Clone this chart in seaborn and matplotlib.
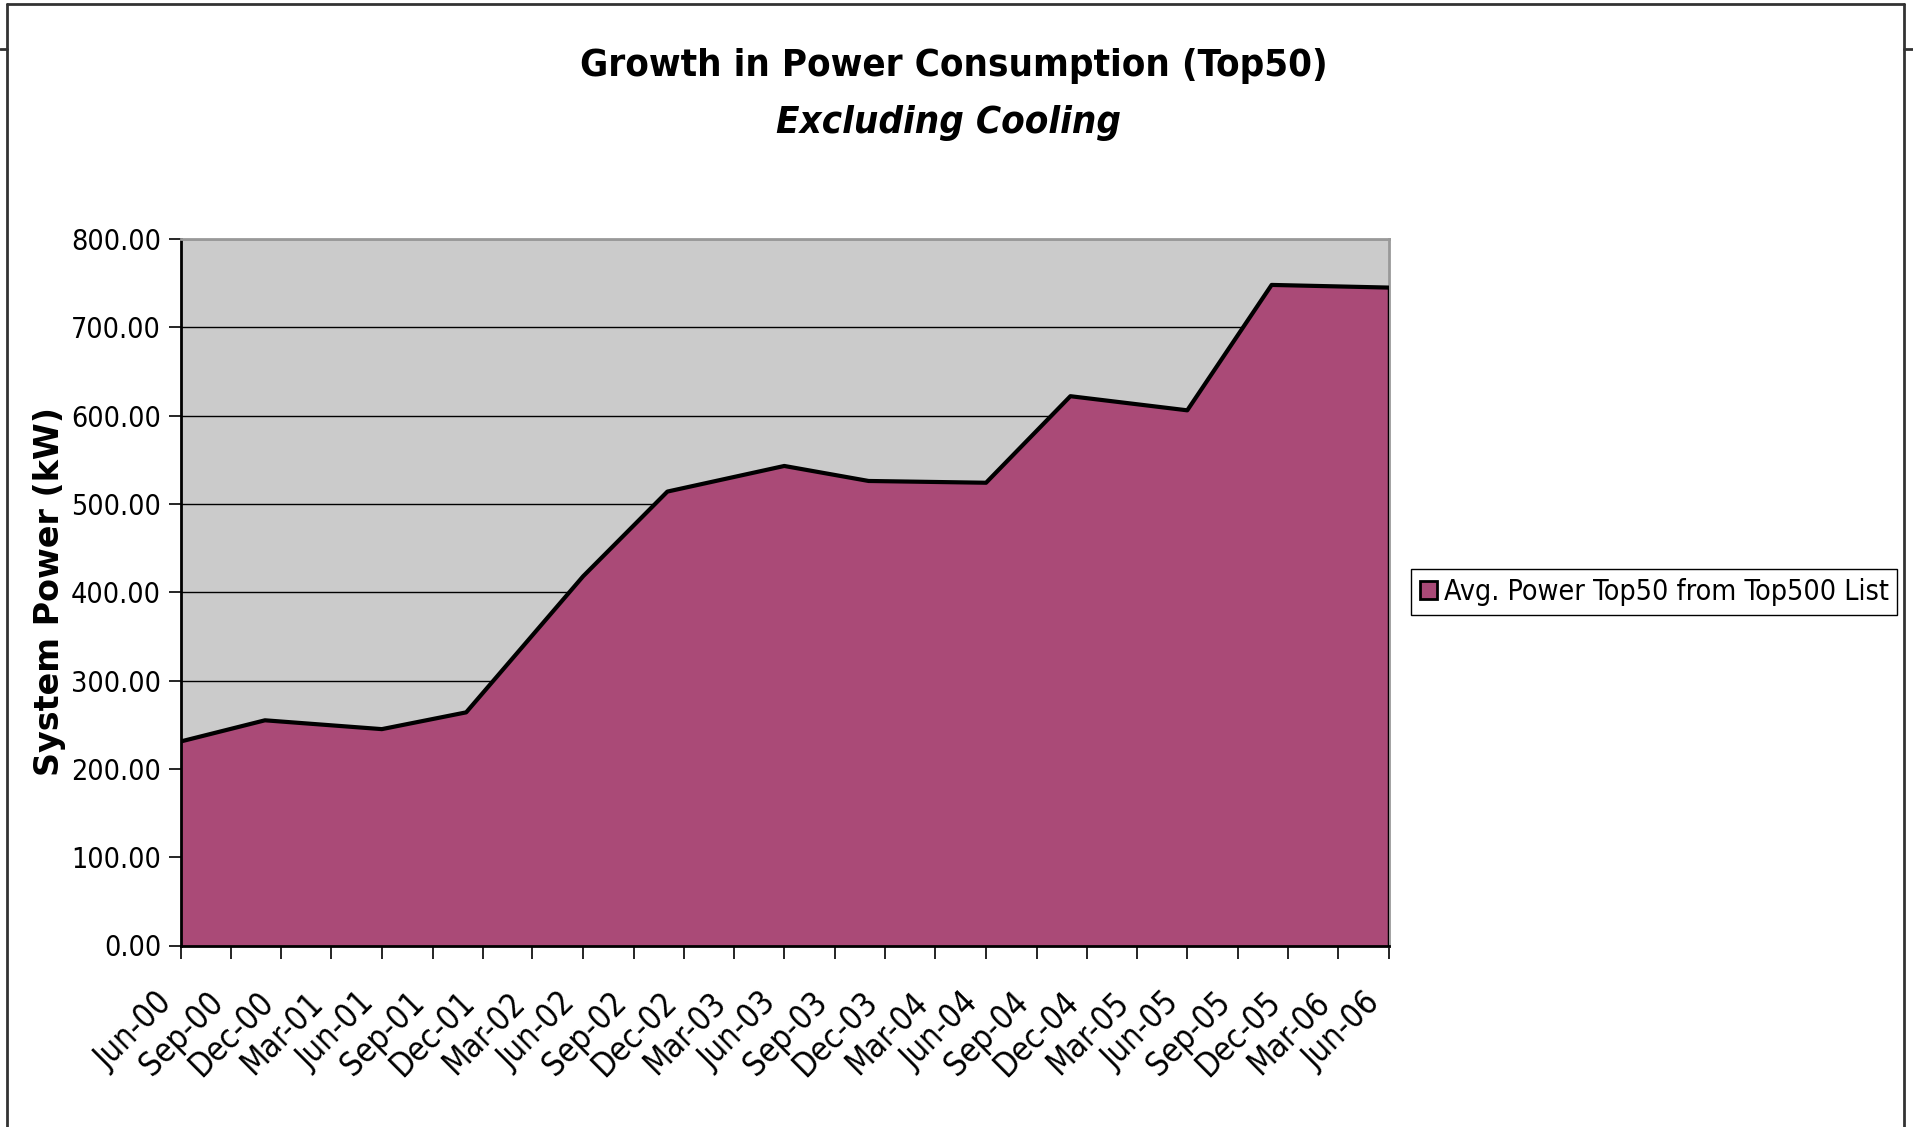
import matplotlib
matplotlib.use('Agg')
import pandas as pd
import matplotlib.pyplot as plt
import matplotlib.dates as mdates
import matplotlib.transforms as mtransforms
from matplotlib.lines import Line2D
from matplotlib.patches import Patch
from matplotlib.ticker import FormatStrFormatter
import seaborn as sns

# Top500 list dates (June / November) and average power of the top 50 systems
dates = ['2000-06-01', '2000-11-01', '2001-06-01', '2001-11-01', '2002-06-01',
         '2002-11-01', '2003-06-01', '2003-11-01', '2004-06-01', '2004-11-01',
         '2005-06-01', '2005-11-01', '2006-06-01']
power_kw = [231, 255, 245, 264, 418, 514, 543, 526, 524, 622, 606, 748, 745]
series_name = 'Avg. Power Top50 from Top500 List'
y_ticks = [0, 100, 200, 300, 400, 500, 600, 700, 800]

PURPLE = '#AA4A77'
PLOT_BG = '#CBCBCB'

if __name__ == "__main__":
    df = pd.DataFrame({'date': pd.to_datetime(dates), 'power': power_kw})

    sns.set_theme(style='white')
    plt.rcParams['font.family'] = ['DejaVu Sans']
    plt.rcParams['font.stretch'] = 'condensed'
    for key in ['text.color', 'axes.labelcolor', 'xtick.color', 'ytick.color']:
        plt.rcParams[key] = 'black'

    W, H = 1913, 1127
    fig = plt.figure(figsize=(W / 100, H / 100), dpi=100)
    fig.patch.set_facecolor('white')
    ax = fig.add_axes([180.6 / W, 1 - 945.5 / H, (1388.5 - 180.6) / W, (945.5 - 239.0) / H])
    ax.set_facecolor(PLOT_BG)

    ax.fill_between(df['date'], df['power'], 0, color=PURPLE, linewidth=0, zorder=2)
    sns.lineplot(data=df, x='date', y='power', ax=ax, color='black', linewidth=3,
                 zorder=3, legend=False)
    ax.vlines(df['date'].iloc[-1], 0, df['power'].iloc[-1], color='black', linewidth=2.5, zorder=3)

    ax.set_xlim(pd.Timestamp('2000-06-01'), pd.Timestamp('2006-06-01'))
    ax.set_ylim(0, 800)
    ax.set_yticks(y_ticks)
    ax.yaxis.set_major_formatter(FormatStrFormatter('%.2f'))
    ax.xaxis.set_major_locator(mdates.MonthLocator(bymonth=[3, 6, 9, 12]))
    ax.xaxis.set_major_formatter(mdates.DateFormatter('%b-%y'))

    ax.yaxis.grid(True, color='black', linewidth=1.0, zorder=1)
    ax.set_axisbelow(True)
    ax.set_xlabel('')
    ax.set_ylabel('')

    for side in ['left', 'bottom']:
        ax.spines[side].set_color('black')
        ax.spines[side].set_linewidth(2)
    for side in ['top', 'right']:
        ax.spines[side].set_color('#999999')
        ax.spines[side].set_linewidth(2)

    ax.tick_params(axis='both', which='major', direction='out', length=9, width=1.2,
                   color='black', left=True, bottom=True)
    ax.tick_params(axis='y', labelsize=20.5, pad=5)
    ax.tick_params(axis='x', labelsize=23.5, pad=30)
    shift = mtransforms.ScaledTranslation(-0.13, 0.02, fig.dpi_scale_trans)
    for lbl in ax.get_xticklabels():
        lbl.set_rotation(45)
        lbl.set_ha('right')
        lbl.set_va('center')
        lbl.set_rotation_mode('anchor')
        lbl.set_transform(lbl.get_transform() + shift)

    fig.text(954 / W, 1 - 66 / H, 'Growth in Power Consumption (Top50)', ha='center',
             va='center', fontsize=27.5, fontweight='bold')
    fig.text(948 / W, 1 - 123 / H, 'Excluding Cooling', ha='center', va='center',
             fontsize=27.5, fontweight='bold', fontstyle='italic')
    fig.text(50 / W, 1 - 592 / H, 'System Power (kW)', ha='center', va='center',
             rotation=90, fontsize=24, fontweight='bold', fontstretch='normal')

    handle = Patch(facecolor=PURPLE, edgecolor='black', linewidth=2)
    fig.legend([handle], [series_name], loc='center left',
               bbox_to_anchor=(1411 / W, 1 - 592 / H), fontsize=20.5, frameon=True,
               fancybox=False, edgecolor='black', framealpha=1, borderpad=0.3,
               handlelength=0.6, handleheight=0.6, handletextpad=0.25,
               borderaxespad=0)

    # outer chart frame
    frame_c = '#333333'
    fig.add_artist(Line2D([7 / W, 7 / W], [0, 1 - 4 / H], transform=fig.transFigure,
                          color=frame_c, linewidth=2))
    fig.add_artist(Line2D([7 / W, 1904 / W], [1 - 4 / H, 1 - 4 / H], transform=fig.transFigure,
                          color=frame_c, linewidth=2))
    fig.add_artist(Line2D([1904 / W, 1904 / W], [0, 1 - 4 / H], transform=fig.transFigure,
                          color=frame_c, linewidth=2))
    fig.add_artist(Line2D([0, 7 / W], [1 - 49 / H, 1 - 49 / H], transform=fig.transFigure,
                          color=frame_c, linewidth=2))
    fig.add_artist(Line2D([1904 / W, 1], [1 - 49 / H, 1 - 49 / H], transform=fig.transFigure,
                          color=frame_c, linewidth=2))

    fig.savefig('out.png', dpi=100)
